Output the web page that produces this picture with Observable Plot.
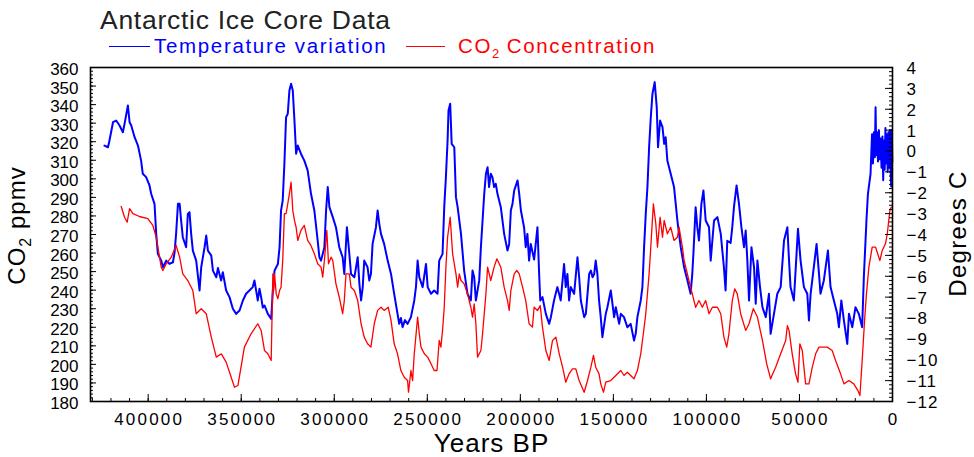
<!DOCTYPE html>
<html>
<head>
<meta charset="utf-8">
<script src="https://cdn.jsdelivr.net/npm/d3@7"></script>
<script src="https://cdn.jsdelivr.net/npm/@observablehq/plot@0.6"></script>
<style>
  html, body { margin: 0; padding: 0; background: #fff; }
  body { font-family: "Liberation Sans", Arial, sans-serif; }
  #wrap { position: relative; width: 974px; height: 457px; overflow: hidden; }
  #chart { position: absolute; left: 0; top: 0; }
  .hdr { position: absolute; white-space: nowrap; }
  #title { left: 100px; top: 8.8px; font-size: 26.5px; line-height: 22px; letter-spacing: 0.73px; color: #222; }
  .leg { top: 37.1px; font-size: 20.5px; line-height: 18px; letter-spacing: 1.67px; }
  .legline { position: absolute; height: 0; border-top: 1.6px solid; top: 46px; }
  sub { font-size: 13px; vertical-align: -5px; line-height: 0; letter-spacing: 0; }
</style>
</head>
<body>
<div id="wrap">
  <div id="chart"></div>
  <div class="hdr" id="title">Antarctic Ice Core Data</div>
  <div class="legline" style="left:109px;width:41px;border-color:#0000ff"></div>
  <div class="hdr leg" style="left:154px;color:#0000ff">Temperature variation</div>
  <div class="legline" style="left:406px;width:39px;border-color:#ff0000"></div>
  <div class="hdr leg" style="left:458px;color:#ff0000">CO<sub>2</sub> Concentration</div>
</div>
<script>
// ---- data: [thousand years BP, value] ----
const temperature = [
  [423.5,0.26],[421.6,0.18],[420.8,0.5],[418.9,1.38],[417.2,1.46],[415.4,1.22],[413.6,0.9],[412.7,1.3],
  [410.9,2.18],[410.0,1.38],[409.1,1.22],[407.3,0.66],[405.5,0.26],[403.8,-0.46],[402.9,-1.09],[401.1,-1.25],
  [399.3,-1.65],[398.4,-2.05],[396.6,-2.53],[395.7,-3.97],[394.8,-4.93],[393.0,-5.25],[392.1,-5.57],[390.3,-5.25],
  [388.6,-5.41],[386.7,-5.33],[385.8,-4.85],[385.0,-3.97],[384.0,-2.53],[383.1,-2.53],[382.3,-3.33],[381.4,-4.13],
  [379.6,-4.61],[378.7,-3.01],[377.8,-2.93],[376.9,-3.97],[376.0,-4.77],[374.2,-5.25],[372.4,-6.68],[371.5,-5.57],
  [369.7,-4.61],[368.8,-4.05],[367.9,-4.77],[366.1,-5.01],[365.2,-5.73],[363.4,-6.05],[362.5,-5.6],[361.7,-5.89],
  [360.8,-6.2],[359.9,-5.81],[358.1,-6.68],[356.3,-7.0],[354.5,-7.56],[352.7,-7.8],[350.9,-7.64],[349.1,-7.16],
  [347.4,-6.84],[345.6,-6.68],[343.8,-6.52],[342.9,-6.2],[342.0,-6.68],[341.1,-7.16],[340.2,-6.6],[339.3,-7.0],
  [338.4,-7.5],[337.5,-7.4],[335.7,-7.8],[333.9,-8.04],[333.0,-6.68],[332.1,-5.73],[330.3,-5.41],[329.4,-4.61],
  [328.6,-2.85],[327.7,-2.37],[326.8,-0.61],[325.9,1.62],[325.0,1.78],[324.1,2.9],[323.2,3.22],[322.3,2.9],
  [321.4,1.46],[320.5,-0.13],[319.6,0.26],[317.9,-0.13],[316.1,-0.46],[314.3,-0.93],[312.5,-2.05],[310.7,-2.85],
  [308.9,-4.3],[308.0,-5.09],[307.1,-5.25],[305.3,-4.61],[304.4,-2.85],[303.5,-1.73],[302.6,-2.69],[300.8,-3.17],
  [299.1,-3.65],[297.3,-4.61],[295.5,-5.09],[294.6,-5.89],[293.2,-3.65],[291.9,-4.93],[291.0,-5.89],[289.2,-6.05],
  [287.4,-5.09],[286.5,-6.36],[285.6,-7.16],[284.7,-6.52],[283.9,-5.25],[282.1,-5.57],[281.2,-6.2],[280.3,-5.89],
  [279.4,-4.45],[277.6,-3.65],[276.7,-2.85],[275.8,-3.49],[274.9,-3.97],[273.2,-4.45],[271.3,-5.25],[269.5,-5.89],
  [267.8,-6.84],[266.0,-7.8],[265.1,-8.28],[264.2,-8.0],[263.3,-8.44],[262.0,-8.1],[260.6,-8.28],[258.8,-7.96],
  [257.0,-7.16],[256.1,-6.52],[255.2,-5.25],[254.3,-6.05],[252.5,-6.52],[250.7,-5.41],[249.8,-6.52],[248.0,-6.84],
  [246.3,-6.68],[244.5,-6.84],[243.6,-5.25],[241.8,-4.93],[240.9,-2.69],[240.0,-1.25],[239.1,0.5],[238.6,1.94],
  [237.7,2.26],[236.9,0.34],[235.5,0.18],[234.6,-2.21],[233.7,-2.69],[231.9,-3.97],[230.2,-5.73],[228.4,-6.84],
  [226.6,-7.16],[225.7,-5.73],[224.8,-6.05],[223.9,-7.16],[222.1,-6.2],[221.2,-4.61],[220.3,-3.33],[219.4,-2.05],
  [218.5,-1.09],[217.6,-0.78],[216.8,-1.73],[215.9,-1.09],[215.0,-1.25],[214.1,-1.73],[213.2,-1.57],[212.3,-2.05],
  [210.5,-2.69],[208.7,-3.97],[206.9,-4.77],[206.0,-4.45],[205.1,-2.85],[204.2,-2.53],[203.3,-1.89],[201.5,-1.41],
  [200.6,-2.05],[199.7,-2.85],[198.0,-3.65],[197.1,-4.61],[196.2,-3.97],[195.3,-5.25],[194.4,-4.45],[192.6,-5.2],
  [190.8,-3.65],[189.9,-5.89],[189.3,-7.16],[188.1,-7.0],[186.3,-7.8],[184.5,-8.28],[183.6,-7.96],[181.9,-7.16],
  [180.1,-6.52],[178.3,-7.16],[176.5,-5.41],[175.6,-6.52],[174.7,-5.89],[173.8,-7.16],[172.9,-6.52],[171.1,-6.84],
  [169.3,-5.09],[168.4,-6.05],[167.5,-7.16],[165.7,-7.96],[164.8,-7.8],[163.0,-5.89],[162.1,-5.73],[161.2,-6.05],
  [160.3,-5.89],[159.5,-5.25],[158.6,-5.89],[157.7,-7.16],[156.8,-7.96],[155.9,-8.92],[154.1,-7.8],[153.2,-7.48],
  [151.4,-6.68],[149.6,-7.96],[148.7,-7.48],[146.9,-8.28],[146.0,-7.8],[144.3,-7.96],[142.5,-8.44],[140.7,-8.28],
  [138.9,-9.08],[138.0,-8.76],[137.1,-7.96],[135.3,-7.16],[134.4,-6.52],[133.5,-4.61],[132.6,-3.01],[131.7,-1.73],
  [130.8,0.18],[129.9,1.62],[129.0,2.74],[127.8,3.3],[126.7,2.1],[126.0,0.18],[124.9,1.46],[123.6,1.14],
  [122.7,0.34],[121.9,0.66],[121.0,-0.46],[119.2,-1.09],[117.4,-1.73],[116.5,-2.53],[115.6,-3.33],[113.8,-4.61],
  [112.0,-5.57],[110.2,-6.2],[108.5,-6.84],[107.6,-5.89],[107.0,-4.93],[105.8,-2.69],[104.9,-3.65],[104.0,-4.29],
  [102.7,-2.53],[101.6,-1.89],[100.4,-3.33],[98.6,-3.65],[97.7,-5.25],[95.9,-3.33],[94.1,-3.17],[92.3,-3.97],
  [90.6,-5.57],[89.7,-6.68],[88.8,-4.3],[87.0,-4.4],[86.1,-3.65],[85.2,-2.69],[83.8,-1.65],[82.5,-2.53],
  [81.2,-3.65],[79.8,-4.61],[78.9,-3.81],[78.0,-5.25],[77.1,-7.16],[75.8,-4.61],[74.4,-5.57],[73.5,-7.32],
  [72.6,-5.25],[71.2,-6.52],[69.9,-7.48],[68.1,-7.96],[66.4,-6.84],[65.5,-8.76],[63.7,-7.8],[61.9,-6.84],
  [60.1,-6.52],[58.3,-4.29],[56.5,-3.65],[55.6,-5.25],[54.8,-6.52],[53.0,-7.16],[50.8,-3.73],[49.4,-5.25],
  [47.6,-6.52],[45.8,-6.84],[44.9,-8.12],[44.0,-6.84],[42.3,-5.57],[40.8,-4.45],[39.5,-5.89],[38.7,-6.84],
  [36.9,-6.2],[34.7,-4.77],[33.3,-6.52],[31.5,-7.16],[29.7,-7.8],[28.8,-8.44],[27.5,-7.16],[26.1,-8.12],
  [24.3,-9.24],[23.4,-7.8],[21.6,-8.44],[19.9,-7.48],[18.1,-7.8],[16.3,-8.44],[15.4,-6.05],[14.0,-3.33],
  [13.2,-2.05],[11.8,-1.09],[11.0,0.8],[10.5,-0.6],[10.0,0.9],[9.5,-0.3],[9.1,2.1],[8.7,-0.2],[8.2,0.9],
  [7.8,-0.5],[7.3,1.0],[6.8,-0.4],[6.4,0.6],[5.9,-0.8],[5.4,0.7],[5.0,-1.4],[4.6,0.5],[4.2,-0.9],[3.8,1.1],
  [3.4,-0.6],[3.0,0.8],[2.6,-1.0],[2.2,0.9],[1.8,-0.8],[1.4,1.0],[1.0,-1.0],[0.7,-1.7],[0.4,1.0],[0.1,-0.5]
];
const co2 = [
  [414.5,285.1],[412.7,279.3],[411.3,276.6],[410.0,283.9],[408.2,281.2],[404.7,279.7],[400.2,278.5],[397.5,274.9],
  [395.7,268.5],[394.8,263.2],[393.9,257.8],[393.0,252.4],[392.1,250.6],[390.3,254.2],[387.6,257.8],[385.0,264.1],
  [383.1,257.8],[381.4,248.8],[378.7,245.2],[376.0,239.8],[374.2,227.3],[371.5,230.0],[368.8,227.3],[366.1,214.7],
  [363.4,203.9],[360.7,205.7],[358.1,201.2],[355.4,193.1],[353.6,187.7],[351.8,188.6],[350.1,198.5],[348.3,209.3],
  [344.7,216.5],[341.1,221.9],[339.3,218.3],[337.5,207.5],[335.7,205.7],[333.9,202.1],[333.0,248.8],[332.5,240.0],
  [332.1,248.8],[331.2,238.0],[330.3,235.4],[329.4,239.8],[328.6,241.6],[327.7,256.0],[326.8,281.2],[325.9,281.2],
  [325.0,286.5],[324.1,292.0],[323.2,298.2],[322.3,283.0],[321.4,277.6],[320.5,273.9],[319.6,266.8],[317.9,272.2],
  [316.1,274.9],[314.3,266.8],[312.5,264.0],[310.7,259.6],[308.9,254.2],[307.1,252.4],[306.2,247.0],[305.3,256.0],
  [304.0,272.2],[303.1,254.2],[301.7,257.8],[300.8,256.0],[299.1,243.4],[297.3,236.2],[295.5,227.3],[294.6,234.4],
  [293.7,248.8],[291.9,248.8],[291.0,241.6],[289.2,239.8],[287.4,234.4],[285.6,221.9],[283.9,214.7],[282.1,211.1],
  [280.3,209.3],[278.5,221.9],[276.7,229.1],[274.9,230.8],[273.2,229.1],[271.0,230.8],[269.5,223.7],[267.8,211.1],
  [266.0,205.7],[264.2,196.7],[262.4,193.1],[260.6,191.3],[260.1,185.0],[258.8,196.7],[257.9,191.3],[257.0,205.7],
  [255.2,225.5],[254.3,216.5],[253.4,209.3],[251.6,205.7],[249.8,203.9],[248.0,200.3],[246.3,196.7],[244.8,196.7],
  [243.6,212.9],[242.7,209.3],[241.8,218.3],[240.9,230.8],[240.0,252.4],[239.1,268.5],[237.7,279.3],[236.4,259.6],
  [235.5,254.2],[234.6,248.8],[233.7,241.6],[232.8,248.8],[231.9,245.2],[230.2,243.4],[228.4,238.0],[226.6,230.8],
  [225.7,225.5],[224.8,232.6],[223.9,221.9],[223.0,203.9],[221.2,207.5],[220.3,216.5],[219.4,227.3],[218.5,238.0],
  [217.6,252.4],[215.9,245.2],[214.1,252.4],[212.6,256.9],[210.5,252.4],[208.7,241.6],[206.9,234.4],[206.0,229.1],
  [205.1,239.8],[203.3,248.8],[201.9,250.6],[200.6,248.8],[198.8,241.6],[197.1,234.4],[195.3,221.9],[193.5,220.1],
  [192.6,230.8],[190.8,229.0],[189.3,231.7],[188.1,220.1],[186.3,207.5],[184.5,202.1],[182.7,212.9],[180.9,214.7],
  [179.1,205.7],[177.3,198.5],[175.6,190.4],[173.8,194.9],[172.0,197.6],[170.2,197.6],[168.4,191.3],[165.7,185.0],
  [163.9,191.3],[162.1,198.5],[160.7,204.8],[159.5,198.5],[157.7,194.9],[156.8,189.5],[155.3,185.0],[154.1,190.4],
  [151.4,191.3],[148.7,194.0],[146.0,196.7],[144.3,194.0],[142.5,195.8],[140.7,194.0],[138.9,192.2],[137.1,196.7],
  [135.3,205.7],[133.9,216.5],[132.6,227.3],[131.7,238.0],[130.8,248.8],[129.9,263.2],[128.5,286.5],[127.2,275.8],
  [126.3,263.2],[124.9,279.3],[123.6,268.5],[122.7,277.6],[121.0,270.4],[119.2,273.9],[117.4,266.8],[115.6,268.5],
  [114.7,273.9],[112.9,263.2],[112.0,256.0],[111.1,252.4],[109.4,245.2],[107.6,238.0],[105.8,230.8],[104.0,234.4],
  [102.2,230.8],[100.4,234.4],[98.6,227.3],[96.8,230.8],[94.1,230.8],[92.3,227.3],[90.6,214.7],[89.1,209.3],
  [87.9,216.5],[86.1,234.4],[84.8,240.7],[83.4,238.0],[81.6,227.3],[78.9,218.3],[77.1,221.9],[74.8,230.0],
  [72.6,225.5],[69.9,212.9],[67.6,200.3],[65.5,192.2],[62.8,198.5],[60.1,205.7],[57.4,212.9],[56.5,220.9],
  [55.6,218.3],[53.9,205.7],[52.1,194.9],[50.8,190.4],[49.8,211.1],[48.5,207.5],[47.6,198.5],[46.7,189.5],
  [44.9,189.5],[43.1,198.5],[41.3,205.7],[39.5,209.3],[35.1,209.3],[32.4,207.5],[30.6,202.1],[27.9,194.9],
  [26.1,189.5],[23.4,191.3],[20.8,189.5],[18.6,185.9],[17.5,183.2],[16.3,202.1],[15.0,223.7],[14.0,238.0],
  [12.7,252.4],[10.9,263.2],[9.1,263.2],[6.8,256.0],[5.5,261.4],[3.8,265.0],[2.8,270.4],[1.4,283.0],[0.7,284.7]
];
const co2TickLabels = d3.range(180, 361, 10);
const co2MinorTicks = d3.range(180, 361, 2);
const tempTickLabels = d3.range(-12, 5, 1);
const tempMinorTicks = d3.range(-60, 21, 1).map(v => v / 5);
const yearTickLabels = d3.range(0, 400001, 50000);
const yearMinorTicks = d3.range(0, 430001, 10000);

// ---- layout ----
const W = 974, H = 457;
const mL = 90, mR = 82, mT = 67, mB = 56;
const pW = W - mL - mR, pH = H - mT - mB;
// temperature (-12..4 °C) shares the vertical extent of CO2 (180..360 ppmv)
const tToC = t => 180 + (t + 12) * (180 / 16);
const fmtT = t => (t < 0 ? "\u2212" + Math.abs(t) : String(t));

const plot = Plot.plot({
  width: W, height: H,
  marginLeft: mL, marginRight: mR, marginTop: mT, marginBottom: mB,
  x: {domain: [431000, 0], axis: null},
  y: {domain: [180, 360], axis: null},
  style: {fontFamily: "'Liberation Sans', Arial, sans-serif", fontSize: "17px", color: "#000", background: "#fff", overflow: "visible"},
  marks: [
    Plot.line(temperature, {x: d => d[0] * 1000, y: d => tToC(d[1]), stroke: "#0000ff", strokeWidth: 2}),
    Plot.line(co2, {x: d => d[0] * 1000, y: d => d[1], stroke: "#ff0000", strokeWidth: 1.3}),
    // left ticks (inward)
    Plot.tickY(co2MinorTicks, {y: d => d, insetRight: pW - 3, stroke: "#000", strokeWidth: 1}),
    Plot.tickY(co2TickLabels, {y: d => d, insetRight: pW - 6, stroke: "#000", strokeWidth: 1}),
    // right ticks (inward)
    Plot.tickY(tempMinorTicks, {y: d => tToC(d), insetLeft: pW - 3, stroke: "#000", strokeWidth: 1}),
    Plot.tickY(tempTickLabels, {y: d => tToC(d), insetLeft: pW - 7, stroke: "#000", strokeWidth: 1}),
    // bottom ticks (inward)
    Plot.tickX(yearMinorTicks, {x: d => d, insetTop: pH - 3, stroke: "#000", strokeWidth: 1}),
    Plot.tickX(yearTickLabels, {x: d => d, insetTop: pH - 7, stroke: "#000", strokeWidth: 1}),
    Plot.frame({stroke: "#000", strokeWidth: 1.6}),
    // tick labels
    Plot.text(co2TickLabels, {y: d => d, text: d => String(d), frameAnchor: "left", textAnchor: "end", dx: -12, dy: 2, fontSize: 17}),
    Plot.text(tempTickLabels, {y: d => tToC(d), text: fmtT, frameAnchor: "right", textAnchor: "start", dx: 14, dy: 1, fontSize: 17}),
    Plot.text(yearTickLabels, {x: d => d, text: d => String(d), frameAnchor: "bottom", lineAnchor: "top", dy: 11, dx: 1, fontSize: 17}),
    // axis titles
    Plot.text(["Years BP"], {frameAnchor: "bottom", lineAnchor: "bottom", dy: 50, fontSize: 26}),
    Plot.text(["CO2 ppmv"], {frameAnchor: "left", textAnchor: "middle", rotate: -90, dx: -73, dy: -9, fontSize: 24}),
    Plot.text(["Degrees C"], {frameAnchor: "right", textAnchor: "middle", rotate: -90, dx: 66, dy: -1, fontSize: 24})
  ]
});

// typographic touches, found by text content
const texts = Array.from(plot.querySelectorAll("text"));
const byContent = s => texts.find(t => t.textContent === s);
const setGroupSpacing = (s, v) => { const t = byContent(s); if (t && t.parentNode) t.parentNode.setAttribute("letter-spacing", v); };
setGroupSpacing("400000", "2.2px");
setGroupSpacing("\u221212", "1px");
setGroupSpacing("Years BP", "1px");
setGroupSpacing("Degrees C", "1.3px");
const co2Title = byContent("CO2 ppmv");
if (co2Title) {
  co2Title.setAttribute("letter-spacing", "1px");
  const ns = "http://www.w3.org/2000/svg";
  while (co2Title.firstChild) co2Title.removeChild(co2Title.firstChild);
  const a = document.createElementNS(ns, "tspan"); a.textContent = "CO";
  const b = document.createElementNS(ns, "tspan"); b.setAttribute("dy", "6"); b.setAttribute("font-size", "16px"); b.textContent = "2";
  const c = document.createElementNS(ns, "tspan"); c.setAttribute("dy", "-6"); c.textContent = " ppmv";
  co2Title.append(a, b, c);
}

document.getElementById("chart").appendChild(plot);
</script>
</body>
</html>
